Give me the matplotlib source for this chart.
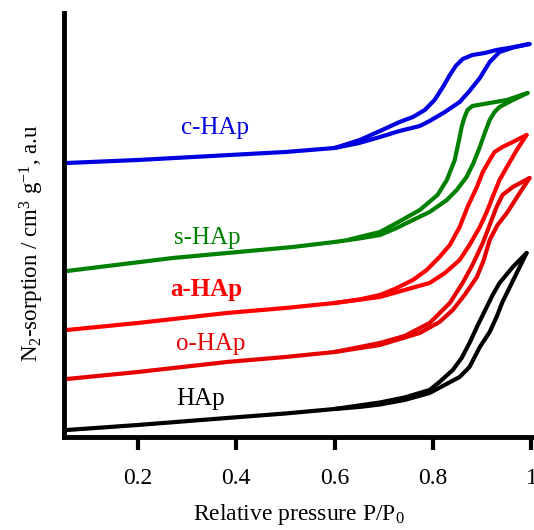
import matplotlib.pyplot as plt
import numpy as np

plt.rcParams['font.family'] = ['Liberation Serif', 'DejaVu Serif']
plt.rcParams['mathtext.fontset'] = 'custom'
plt.rcParams['mathtext.rm'] = 'Liberation Serif'
plt.rcParams['mathtext.default'] = 'regular'

# relative pressure P/P0 and sorbed amount (arbitrary, offset units)
# c-HAp
c_ads_x = [0.056, 0.2, 0.35, 0.5, 0.6, 0.65, 0.692, 0.732, 0.773, 0.793, 0.824, 0.854,
           0.874, 0.895, 0.915, 0.935, 0.966, 0.996]
c_ads_y = [27.4, 27.7, 28.1, 28.5, 28.9, 29.4, 30.0, 30.6, 31.1, 31.6, 32.5, 33.5,
           34.6, 35.9, 37.5, 38.5, 39.0, 39.3]
c_des_x = [0.996, 0.966, 0.929, 0.905, 0.880, 0.860, 0.846, 0.834, 0.820, 0.803, 0.783,
           0.759, 0.732, 0.692, 0.651, 0.6]
c_des_y = [39.3, 39.0, 38.7, 38.4, 38.2, 37.8, 37.1, 36.2, 35.0, 33.7, 32.7,
           32.0, 31.5, 30.6, 29.7, 28.9]

# s-HAp
s_ads_x = [0.056, 0.271, 0.515, 0.6, 0.65, 0.692, 0.726, 0.759, 0.793, 0.828, 0.848, 0.868,
           0.882, 0.895, 0.905, 0.915, 0.925, 0.935, 0.962, 0.992]
s_ads_y = [16.6, 17.9, 19.0, 19.5, 19.85, 20.2, 20.9, 21.7, 22.5, 23.7, 24.7, 26.0,
           27.4, 29.0, 30.4, 31.7, 32.5, 33.0, 33.7, 34.4]
s_des_x = [0.992, 0.950, 0.915, 0.880, 0.870, 0.864, 0.858, 0.854, 0.844, 0.828, 0.809,
           0.773, 0.726, 0.692, 0.63]
s_des_y = [34.4, 33.7, 33.4, 33.1, 32.7, 32.0, 31.0, 30.0, 27.7, 25.7, 24.2,
           22.7, 21.4, 20.5, 19.75]

# a-HAp
a_ads_x = [0.056, 0.2, 0.381, 0.5, 0.6, 0.692, 0.742, 0.793, 0.824, 0.854, 0.874, 0.895,
           0.909, 0.921, 0.935, 0.950, 0.970, 0.990]
a_ads_y = [10.7, 11.4, 12.4, 12.9, 13.4, 14.0, 14.7, 15.4, 16.4, 17.7, 19.2, 21.0,
           22.5, 24.0, 25.7, 27.0, 28.7, 30.2]
a_des_x = [0.990, 0.966, 0.941, 0.925, 0.915, 0.901, 0.889, 0.870, 0.854, 0.834, 0.813,
           0.787, 0.759, 0.722, 0.692, 0.65, 0.6]
a_des_y = [30.2, 29.6, 29.0, 28.5, 27.7, 26.5, 25.0, 23.0, 21.0, 19.2, 18.0,
           16.7, 15.7, 14.8, 14.2, 13.75, 13.4]

# o-HAp
o_ads_x = [0.056, 0.2, 0.381, 0.5, 0.6, 0.692, 0.773, 0.813, 0.840, 0.864, 0.889, 0.903,
           0.915, 0.931, 0.950, 0.976, 0.996]
o_ads_y = [5.8, 6.5, 7.5, 8.0, 8.5, 9.2, 10.4, 11.5, 12.7, 14.2, 16.0, 17.7,
           19.7, 21.2, 22.4, 24.4, 25.9]
o_des_x = [0.996, 0.962, 0.941, 0.929, 0.915, 0.901, 0.880, 0.860, 0.834, 0.793, 0.742,
           0.692, 0.6]
o_des_y = [25.9, 25.0, 24.2, 23.0, 21.2, 19.4, 17.2, 15.4, 13.4, 11.4, 10.1,
           9.4, 8.5]

# HAp
h_ads_x = [0.056, 0.2, 0.381, 0.5, 0.6, 0.65, 0.692, 0.742, 0.793, 0.854, 0.874, 0.895,
           0.915, 0.929, 0.941, 0.956, 0.976, 0.990]
h_ads_y = [0.7, 1.2, 1.9, 2.35, 2.8, 3.0, 3.25, 3.7, 4.4, 6.0, 7.0, 9.0,
           10.5, 12.0, 13.5, 15.0, 17.0, 18.4]
h_des_x = [0.990, 0.962, 0.935, 0.921, 0.909, 0.891, 0.874, 0.858, 0.840, 0.813, 0.793,
           0.742, 0.692, 0.6]
h_des_y = [18.4, 17.0, 15.4, 14.2, 13.0, 11.2, 9.4, 7.9, 6.7, 5.5, 4.7,
           3.95, 3.45, 2.8]

samples = [
    ("c-HAp", c_ads_x, c_ads_y, c_des_x, c_des_y, "#0000e0", 0.357, 30.9, "normal"),
    ("s-HAp", s_ads_x, s_ads_y, s_des_x, s_des_y, "#008000", 0.342, 19.9, "normal"),
    ("a-HAp", a_ads_x, a_ads_y, a_des_x, a_des_y, "#ff0000", 0.339, 14.7, "bold"),
    ("o-HAp", o_ads_x, o_ads_y, o_des_x, o_des_y, "#e60000", 0.347, 9.3, "normal"),
    ("HAp", h_ads_x, h_ads_y, h_des_x, h_des_y, "#000000", 0.327, 3.8, "normal"),
]

fig = plt.figure(figsize=(5.34, 5.30), dpi=100)
ax = fig.add_axes([0.12, 0.1755, 0.879, 0.80])

for name, ax_x, ax_y, dx, dy, col, tx, ty, fw in samples:
    ax.plot(ax_x, ax_y, color=col, lw=3, solid_joinstyle='round', solid_capstyle='round')
    ax.plot(dx, dy, color=col, lw=3, solid_joinstyle='round', solid_capstyle='round')
    ax.text(tx, ty, name, color=col, fontsize=18, fontweight=fw,
            ha='center', va='center')

ax.set_xlim(0.05, 1.004)
ax.set_ylim(0, 42.4)
ax.set_xticks([0.2, 0.4, 0.6, 0.8, 1.0])
ax.set_xticklabels(["0.2", "0.4", "0.6", "0.8", "1"])
ax.set_yticks([])
ax.tick_params(axis='x', direction='out', length=9, width=3, labelsize=17, pad=13)

for side in ['top', 'right']:
    ax.spines[side].set_visible(False)
for side in ['left', 'bottom']:
    ax.spines[side].set_linewidth(3.5)

ax.set_xlabel("Relative pressure P/P$_0$", fontsize=17, labelpad=10)
ax.set_ylabel("N$_2$-sorption / cm$^3$ g$^{-1}$, a.u", fontsize=16.5)
ax.yaxis.set_label_coords(-0.038, 0.458)

fig.savefig("out.png", dpi=100)
